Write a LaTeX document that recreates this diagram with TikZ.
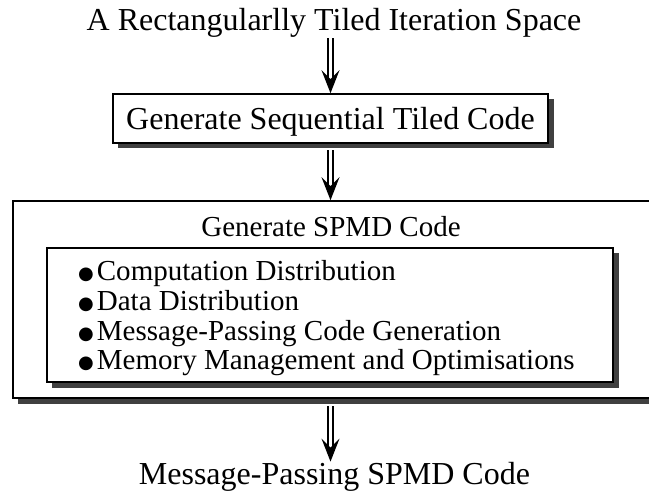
\documentclass[tikz,border=0pt]{standalone}
\usepackage{fontspec}
\setmainfont{Liberation Serif}
\newfontfamily\bulfont{DejaVu Sans}
\usetikzlibrary{arrows.meta,shadows}
\newcommand\mybul{\raisebox{1bp}{\bulfont\fontsize{18bp}{18bp}\selectfont ●}\kern3bp}
\tikzset{
  big/.style={font=\fontsize{32bp}{38bp}\selectfont, inner sep=0pt},
  mid/.style={font=\fontsize{29bp}{35bp}\selectfont, inner sep=0pt},
  boxed/.style={draw=black, line width=1.6bp, fill=white,
    drop shadow={shadow xshift=5.5bp, shadow yshift=-5.5bp, fill=black!75, opacity=1}},
  dblarrow/.style={double=white, double distance=3.5bp, line width=1.4bp,
    -{Stealth[length=23bp, width=18bp, inset=9bp]}},
}
\begin{document}
\begin{tikzpicture}[x=1bp, y=-1bp]
\useasboundingbox (0,0) rectangle (649,491);
\clip (0,0) rectangle (649,491);
% title
\node[big, anchor=base] (title) at (334,31) {A Rectangularlly Tiled Iteration Space};
% box 1
\node[boxed, big, minimum width=435bp, minimum height=49bp, text height=23bp, text depth=0bp]
  (box1) at (330.5,118.5) {Generate Sequential Tiled Code};
% outer box
\node[boxed, minimum width=687bp, minimum height=197bp, inner sep=0pt]
  (outer) at (356.5,299.5) {};
\node[mid, anchor=base] (spmd) at (331,237) {Generate SPMD Code};
% inner box
\node[boxed, minimum width=566bp, minimum height=134bp, inner sep=0pt]
  (inner) at (330,315) {};
\node[mid, anchor=base west] (b1) at (78,280) {\mybul Computation Distribution};
\node[mid, anchor=base west] (b2) at (78,310) {\mybul Data Distribution};
\node[mid, anchor=base west] (b3) at (78,340) {\mybul Message-Passing Code Generation};
\node[mid, anchor=base west] (b4) at (78,369) {\mybul Memory Management and Optimisations};
% bottom
\node[big, anchor=base] (bottom) at (334.5,484) {Message-Passing SPMD Code};
% arrows
\draw[dblarrow] (title.south -| box1.north) -- (box1.north);
\draw[dblarrow] ([yshift=-6.5bp]box1.south) -- (box1.south |- outer.north);
\draw[dblarrow] ([yshift=-7.5bp]outer.south -| box1.south) -- (box1.south |- bottom.north);
\end{tikzpicture}
\end{document}
